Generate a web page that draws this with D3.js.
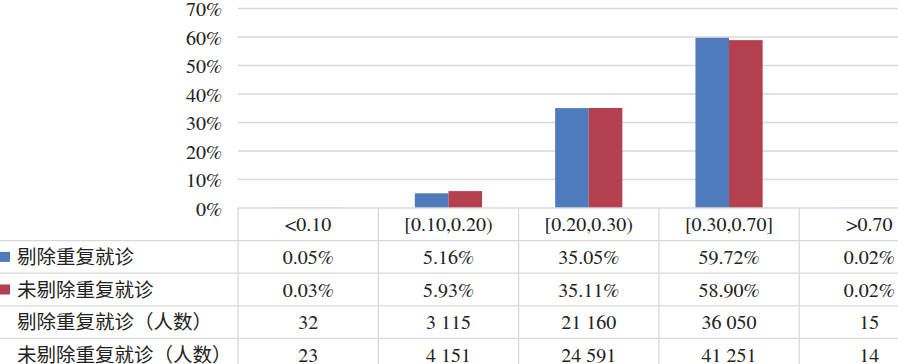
<!DOCTYPE html>
<html>
<head>
<meta charset="utf-8">
<script src="https://cdn.jsdelivr.net/npm/d3@7"></script>
<style>
  body { margin: 0; background: #fff; overflow: hidden; }
  svg { display: block; }
</style>
</head>
<body>
<div id="okvir"></div>
<script>
const kategorije = ["<0.10", "[0.10,0.20)", "[0.20,0.30)", "[0.30,0.70]", ">0.70"];
const serije = ["剔除重复就诊", "未剔除重复就诊"];
const boje = ["#4f7bbd", "#b4404f"];
const udjeli1 = [0.05, 5.16, 35.05, 59.72, 0.02];
const udjeli2 = [0.03, 5.93, 35.11, 58.90, 0.02];
const broj1 = ["32", "3 115", "21 160", "36 050", "15"];
const broj2 = ["23", "4 151", "24 591", "41 251", "14"];
const yTicks = [0, 10, 20, 30, 40, 50, 60, 70];

const serif = "'FreeSerif', 'Liberation Serif', serif";
const cjk = "'Noto Sans CJK SC', 'Noto Sans CJK JP', sans-serif";

const dim = {
    sirina: 898,
    visina: 364,
    lijevo: 238,
    stupac: 140.3,
    vrh: 8.5,
    dno: 208,
    red: 32.6
};

const svg = d3.select("#okvir").append("svg")
    .attr("width", dim.sirina)
    .attr("height", dim.visina);

const xSkala = d3.scaleBand()
    .domain(kategorije)
    .range([dim.lijevo, dim.lijevo + dim.stupac * kategorije.length])
    .padding(0);

const xSerija = d3.scaleBand()
    .domain(serije)
    .range([dim.stupac / 2 - 33.6, dim.stupac / 2 + 33.6])
    .padding(0);

const ySkala = d3.scaleLinear()
    .domain([0, 70])
    .range([dim.dno, dim.vrh]);

// mreza
svg.append("g").selectAll("line")
    .data(yTicks.filter(t => t > 0))
    .join("line")
    .attr("x1", dim.lijevo)
    .attr("x2", dim.sirina)
    .attr("y1", d => ySkala(d))
    .attr("y2", d => ySkala(d))
    .attr("stroke", "#d9d9d9")
    .attr("stroke-width", 1.3);

// y os
const yOs = svg.append("g")
    .attr("transform", `translate(${dim.lijevo - 16},0)`)
    .call(d3.axisLeft(ySkala).tickValues(yTicks).tickFormat(d => d + "%").tickSize(0).tickPadding(0));
yOs.select(".domain").remove();
yOs.attr("font-family", null).attr("font-size", null);
yOs.selectAll("text")
    .attr("dy", "0.35em")
    .attr("fill", "#222")
    .style("font-family", serif)
    .style("font-size", "20px");

// stupci
const podaci = kategorije.map((k, i) => ({ k, vrijednosti: [udjeli1[i], udjeli2[i]] }));
const grupe = svg.append("g").selectAll("g")
    .data(podaci)
    .join("g")
    .attr("transform", d => `translate(${xSkala(d.k)},0)`);

grupe.selectAll("rect")
    .data(d => d.vrijednosti.map((v, j) => ({ s: serije[j], v, j })))
    .join("rect")
    .attr("x", d => xSerija(d.s))
    .attr("width", xSerija.bandwidth())
    .attr("y", d => ySkala(d.v))
    .attr("height", d => ySkala(0) - ySkala(d.v))
    .attr("fill", d => boje[d.j]);

// tablica
const redovi = [
    { oznaka: null, vrijednosti: kategorije },
    { oznaka: serije[0], boja: boje[0], vrijednosti: udjeli1.map(v => v.toFixed(2) + "%") },
    { oznaka: serije[1], boja: boje[1], vrijednosti: udjeli2.map(v => v.toFixed(2) + "%") },
    { oznaka: "剔除重复就诊（人数）", vrijednosti: broj1 },
    { oznaka: "未剔除重复就诊（人数）", vrijednosti: broj2 }
];

const tablica = svg.append("g");
const linija = "#d9d9d9";

// horizontalne linije
redovi.forEach((r, i) => {
    const y = dim.dno + i * dim.red;
    tablica.append("line")
        .attr("x1", i === 0 ? dim.lijevo : 0)
        .attr("x2", dim.sirina)
        .attr("y1", y).attr("y2", y)
        .attr("stroke", linija).attr("stroke-width", 1.3);
});

// vertikalne linije
kategorije.forEach(k => {
    tablica.append("line")
        .attr("x1", xSkala(k)).attr("x2", xSkala(k))
        .attr("y1", dim.dno).attr("y2", dim.visina)
        .attr("stroke", linija).attr("stroke-width", 1.3);
});

redovi.forEach((r, i) => {
    const yc = dim.dno + i * dim.red + dim.red / 2;
    r.vrijednosti.forEach((v, j) => {
        tablica.append("text")
            .attr("x", xSkala(kategorije[j]) + dim.stupac / 2)
            .attr("y", yc)
            .attr("dy", "0.35em")
            .attr("text-anchor", "middle")
            .attr("fill", "#222")
            .style("font-family", serif)
            .style("font-size", "20px")
            .text(v);
    });
    if (r.oznaka) {
        if (r.boja) {
            tablica.append("rect")
                .attr("x", 0).attr("y", yc - 5)
                .attr("width", 10).attr("height", 10)
                .attr("fill", r.boja);
        }
        tablica.append("text")
            .attr("x", 17)
            .attr("y", yc)
            .attr("dy", "0.36em")
            .attr("fill", "#222")
            .style("font-family", cjk)
            .style("font-size", "19.5px")
            .text(r.oznaka);
    }
});
</script>
</body>
</html>
